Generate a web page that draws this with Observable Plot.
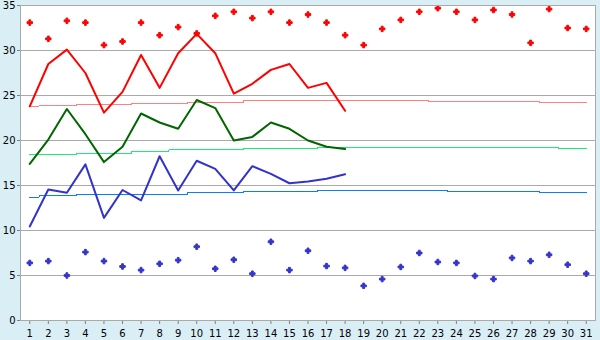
<!DOCTYPE html>
<html><head><meta charset="utf-8">
<script src="https://cdn.jsdelivr.net/npm/d3@7"></script>
<script src="https://cdn.jsdelivr.net/npm/@observablehq/plot@0.6"></script>
<style>body{margin:0;background:#daeef6;}</style>
</head><body><div id="chart"></div>
<script>
const days = [1,2,3,4,5,6,7,8,9,10,11,12,13,14,15,16,17,18,19,20,21,22,23,24,25,26,27,28,29,30,31];
const yTicks = [0,5,10,15,20,25,30,35];
// daily extremes (markers)
const tmax = [33.1,31.3,33.3,33.1,30.6,31.0,33.1,31.7,32.6,31.9,33.85,34.3,33.6,34.3,33.1,34.0,33.1,31.7,30.6,32.4,33.4,34.3,34.7,34.3,33.4,34.5,34.0,30.85,34.6,32.5,32.4];
const tmin = [6.4,6.6,5.0,7.6,6.6,6.0,5.6,6.3,6.7,8.2,5.75,6.75,5.2,8.75,5.6,7.75,6.05,5.85,3.85,4.6,5.95,7.5,6.5,6.4,4.95,4.6,6.95,6.6,7.3,6.2,5.2];
// observed lines (days 1-18)
const highs = [23.8,28.5,30.1,27.5,23.1,25.4,29.5,25.85,29.7,31.85,29.7,25.2,26.3,27.85,28.5,25.85,26.4,23.3];
const means = [17.4,20.1,23.5,20.7,17.6,19.3,23.0,22.0,21.3,24.5,23.6,20.0,20.4,22.0,21.3,20.0,19.3,19.05];
const lows = [10.45,14.55,14.2,17.35,11.4,14.5,13.35,18.25,14.45,17.75,16.85,14.45,17.15,16.3,15.25,15.45,15.75,16.25];
// normals
const normHigh = [23.8,23.9,23.9,24.0,24.0,24.0,24.1,24.1,24.1,24.2,24.2,24.2,24.4,24.4,24.4,24.4,24.4,24.5,24.5,24.5,24.5,24.5,24.35,24.35,24.35,24.35,24.35,24.35,24.2,24.2,24.2];
const normMean = [18.4,18.4,18.4,18.6,18.6,18.6,18.8,18.8,18.95,18.95,18.95,18.95,19.07,19.07,19.07,19.07,19.19,19.19,19.19,19.19,19.19,19.19,19.19,19.19,19.19,19.19,19.19,19.19,19.19,19.07,19.07];
const normLow = [13.7,13.85,13.85,13.96,13.96,13.96,13.96,13.96,13.96,14.19,14.19,14.19,14.3,14.3,14.3,14.3,14.41,14.41,14.41,14.41,14.41,14.41,14.41,14.3,14.3,14.3,14.3,14.3,14.19,14.19,14.19];

const rows = days.map((d,i)=>({day:d, tmax:tmax[i], tmin:tmin[i], nh:normHigh[i], nm:normMean[i], nl:normLow[i]}));
const obs = days.slice(0, highs.length).map((d,i)=>({day:d, hi:highs[i], mean:means[i], lo:lows[i]}));

const chart = Plot.plot({
  width:600, height:340, marginLeft:20, marginRight:5, marginTop:5, marginBottom:20,
  style:{background:"transparent", fontFamily:"'DejaVu Sans', Verdana, sans-serif", fontSize:"10px", color:"black"},
  x:{domain:[0.5,31.5], axis:null, label:null},
  y:{domain:[0,35], axis:null, label:null},
  marks:[
    Plot.frame({fill:"white", stroke:null}),
    Plot.gridY(yTicks.slice(1,-1), {stroke:"#aaaaaa", strokeOpacity:1}),
    Plot.line(rows, {x:"day", y:"nh", stroke:"#ff8080", strokeWidth:1, curve:"step", shapeRendering:"crispEdges"}),
    Plot.line(rows, {x:"day", y:"nm", stroke:"#1aeb7a", strokeWidth:1, curve:"step", shapeRendering:"crispEdges"}),
    Plot.line(rows, {x:"day", y:"nl", stroke:"#0a80f0", strokeWidth:1, curve:"step", shapeRendering:"crispEdges"}),
    Plot.line(obs, {x:"day", y:"hi", stroke:"#ff0000", strokeWidth:2}),
    Plot.line(obs, {x:"day", y:"mean", stroke:"#006600", strokeWidth:2}),
    Plot.line(obs, {x:"day", y:"lo", stroke:"#3333cc", strokeWidth:2}),
    Plot.dot(rows, {x:"day", y:"tmax", symbol:"cross", r:2.3, fill:"#ff0000", stroke:"#ff0000", strokeWidth:1}),
    Plot.dot(rows, {x:"day", y:"tmin", symbol:"cross", r:2.3, fill:"#3333cc", stroke:"#3333cc", strokeWidth:1}),
    Plot.axisY(yTicks, {label:null, tickSize:3, tickPadding:2, stroke:"#808080", fill:"black"}),
    Plot.axisX(days, {label:null, tickSize:4, tickPadding:5, stroke:"#808080", fill:"black"}),
    Plot.frame({stroke:"#aaaaaa"})
  ]
});
document.getElementById("chart").appendChild(chart);
</script>
</body></html>
